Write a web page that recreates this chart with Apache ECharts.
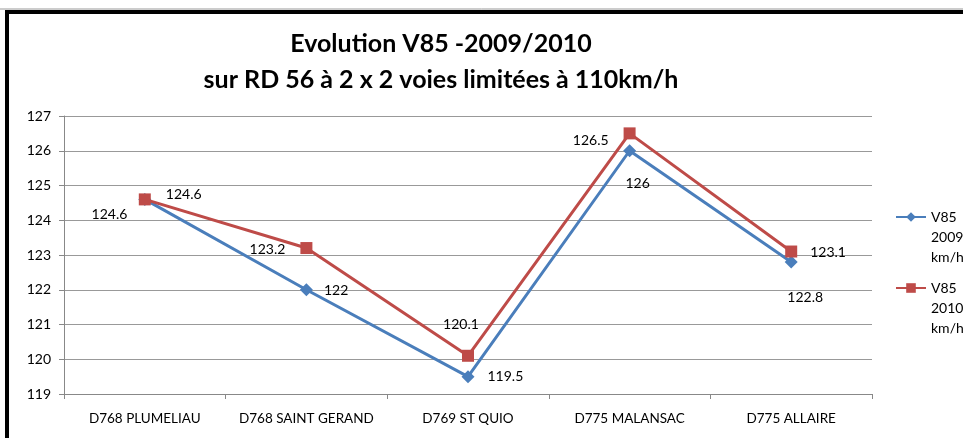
<!DOCTYPE html>
<html><head><meta charset="utf-8">
<script src="https://cdn.jsdelivr.net/npm/echarts@6/dist/echarts.min.js"></script>
<style>html,body{margin:0;padding:0;background:#fff;}#c{width:963px;height:438px;}</style>
</head><body><div id="c"></div>
<script>
const categories = ['D768 PLUMELIAU','D768 SAINT GERAND','D769 ST QUIO','D775 MALANSAC','D775 ALLAIRE'];
const v2009 = [124.6, 122, 119.5, 126, 122.8];
const v2010 = [124.6, 123.2, 120.1, 126.5, 123.1];
const seriesNames = ['V85 2009 km/h','V85 2010 km/h'];
const yTicks = [119,120,121,122,123,124,125,126,127];

const F = 'Lato, "Open Sans", sans-serif';
const lab = (pos, off) => ({show:true, position:pos, offset:off||[0,0], color:'#000', fontSize:14, fontFamily:F});
const lab2009 = [lab('left',[-6,15]), lab('right',[6,1]), lab('right',[8,0]), lab('bottom',[8,14]), lab('bottom',[14,17])];
const lab2010 = [lab('right',[10,-5]), lab('left',[-10,1]), lab('top',[-7,-13]), lab('left',[-10,7]), lab('right',[8,1])];

const chart = echarts.init(document.getElementById('c'), null, {renderer:'canvas'});
chart.setOption({
  animation:false,
  title:{text:'Evolution V85 -2009/2010\nsur RD 56 à 2 x 2 voies limitées à 110km/h', left:441, top:26, textAlign:'center', padding:0,
    textStyle:{fontFamily:F, fontWeight:'bold', fontSize:25, lineHeight:36, color:'#000'}},
  graphic:[
    {type:'line', shape:{x1:0,y1:9,x2:963,y2:9}, style:{stroke:'#999', lineWidth:1}},
    {type:'polyline', shape:{points:[[7,438],[7,12],[963,12]]}, style:{stroke:'#000', lineWidth:4, fill:null}}
  ],
  grid:{left:64, right:91, top:116, bottom:44},
  legend:{orient:'vertical', left:895, top:167, padding:0, itemWidth:30, itemHeight:12, itemGap:-29,
    data:seriesNames.map(n=>({name:n})),
    formatter:n=>'\n\n'+n.replace(/ /g,'\n'),
    textStyle:{fontFamily:F, fontSize:14, color:'#000', lineHeight:20}},
  xAxis:{type:'category', data:categories, boundaryGap:true,
    axisLine:{lineStyle:{color:'#888', width:1}}, axisTick:{show:true, length:5, lineStyle:{color:'#888'}},
    axisLabel:{color:'#000', fontFamily:F, fontSize:13.5, margin:18, interval:0}},
  yAxis:{type:'value', min:yTicks[0], max:yTicks[yTicks.length-1], interval:1,
    axisLine:{show:true, lineStyle:{color:'#888'}}, axisTick:{show:true, length:5, lineStyle:{color:'#888'}},
    splitLine:{lineStyle:{color:'#999', width:1}},
    axisLabel:{color:'#000', fontFamily:F, fontSize:14, margin:13}},
  series:[
    {name:seriesNames[0], type:'line', data:v2009.map((v,i)=>({value:v, label:lab2009[i]})), symbol:'diamond', symbolSize:13,
      itemStyle:{color:'#4A7EBB'}, lineStyle:{color:'#4A7EBB', width:3}},
    {name:seriesNames[1], type:'line', data:v2010.map((v,i)=>({value:v, label:lab2010[i]})), symbol:'rect', symbolSize:12,
      itemStyle:{color:'#BE4B48'}, lineStyle:{color:'#BE4B48', width:3}}
  ]
});
</script></body></html>
